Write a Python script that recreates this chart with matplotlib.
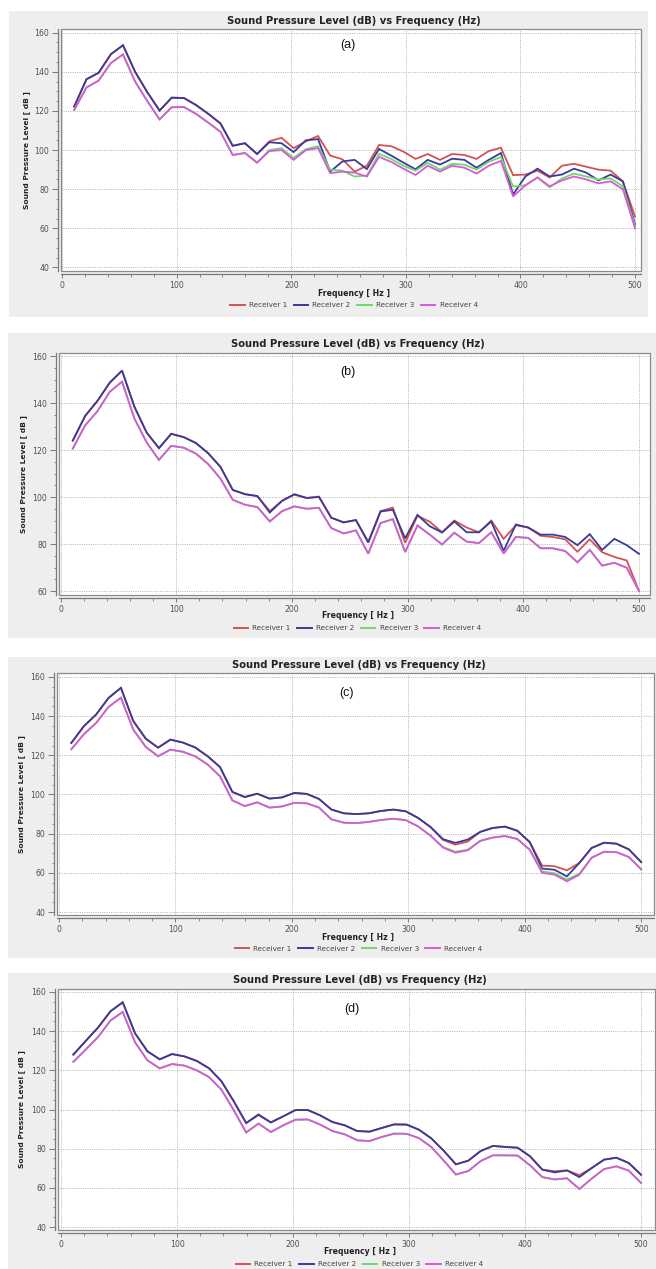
import matplotlib
matplotlib.use("Agg")
import matplotlib.pyplot as plt
from matplotlib.lines import Line2D
from matplotlib.patches import Rectangle
from matplotlib.ticker import MultipleLocator

# ---------------------------------------------------------------- data
freq_hz = [10.6, 21.3, 31.9, 42.6, 53.2, 63.8, 74.5, 85.1, 95.7, 106.4,
           117.0, 127.7, 138.3, 148.9, 159.6, 170.2, 180.9, 191.5, 202.1, 212.8,
           223.4, 234.0, 244.7, 255.3, 266.0, 276.6, 287.2, 297.9, 308.5, 319.1,
           329.8, 340.4, 351.1, 361.7, 372.3, 383.0, 393.6, 404.3, 414.9, 425.5,
           436.2, 446.8, 457.4, 468.1, 478.7, 489.4, 500.0]

receivers = ["Receiver 1", "Receiver 2", "Receiver 3", "Receiver 4"]
panel_tags = ["(a)", "(b)", "(c)", "(d)"]

# (a)
a_r1 = [122.2, 136.2, 139.5, 149.0, 153.6, 140.0, 129.5, 120.2, 126.8, 126.6,
        123.0, 118.5, 113.6, 102.2, 103.5, 98.0, 104.5, 106.3, 101.0, 104.5,
        107.2, 97.2, 95.3, 89.0, 92.0, 102.6, 102.0, 99.2, 95.5, 98.0,
        95.0, 98.0, 97.5, 95.5, 99.5, 101.2, 87.2, 87.5, 89.5, 86.0,
        92.0, 93.0, 91.5, 90.0, 89.5, 84.0, 66.0]
a_r2 = [122.2, 136.2, 139.5, 149.0, 153.6, 140.0, 129.5, 120.2, 126.8, 126.6,
        123.0, 118.5, 113.6, 102.2, 103.5, 98.0, 104.0, 103.5, 99.0, 105.0,
        105.6, 89.0, 94.2, 95.0, 90.3, 100.6, 97.2, 93.6, 90.2, 95.0,
        92.6, 95.6, 95.0, 91.0, 95.0, 98.5, 77.3, 86.5, 90.5, 86.5,
        87.5, 90.5, 88.5, 84.5, 87.5, 84.0, 62.0]
a_r3 = [120.5, 132.0, 135.5, 144.5, 148.9, 135.0, 125.0, 115.7, 121.9, 122.0,
        118.5, 114.0, 109.3, 97.5, 98.5, 93.6, 100.0, 101.0, 96.0, 100.5,
        102.0, 90.0, 89.5, 86.5, 87.0, 98.0, 95.5, 92.0, 89.5, 93.5,
        90.0, 93.0, 92.5, 90.0, 94.0, 96.5, 81.4, 82.0, 86.0, 81.0,
        85.5, 88.0, 86.5, 85.0, 85.5, 81.5, 61.0]
a_r4 = [120.5, 132.0, 135.5, 144.5, 148.9, 135.0, 125.0, 115.7, 121.9, 122.0,
        118.5, 114.0, 109.3, 97.5, 98.5, 93.6, 99.5, 100.0, 95.0, 100.0,
        101.0, 88.2, 89.0, 88.5, 86.5, 96.5, 94.0, 90.5, 87.3, 92.0,
        89.0, 92.0, 91.0, 88.0, 92.0, 94.5, 76.3, 82.0, 86.0, 81.5,
        84.5, 86.5, 85.0, 83.0, 84.0, 80.0, 60.0]

# (b)
b_r1 = [124.0, 134.5, 140.9, 148.7, 153.8, 138.5, 127.4, 120.8, 126.9, 125.5,
        123.0, 118.6, 112.8, 103.0, 101.2, 100.4, 94.0, 98.4, 101.0, 99.6,
        100.2, 91.2, 89.2, 90.2, 81.0, 94.0, 95.5, 80.5, 92.0, 89.5,
        85.0, 90.0, 87.0, 85.0, 90.0, 82.2, 88.0, 87.0, 83.5, 83.0,
        82.0, 76.7, 82.0, 76.5, 74.5, 73.0, 60.0]
b_r2 = [124.0, 134.5, 140.9, 148.7, 153.8, 138.5, 127.4, 120.8, 126.9, 125.5,
        123.0, 118.6, 112.8, 103.0, 101.2, 100.4, 93.4, 98.4, 101.2, 99.6,
        100.0, 91.2, 89.2, 90.2, 80.6, 93.8, 94.6, 82.4, 92.4, 87.6,
        84.9, 89.6, 85.0, 85.0, 89.6, 77.1, 88.3, 87.0, 84.0, 84.0,
        83.0, 79.5, 84.2, 77.5, 82.2, 79.5, 75.8]
b_r3 = [120.6, 130.5, 136.5, 144.8, 149.1, 133.5, 123.2, 115.8, 121.8, 121.0,
        118.5, 114.0, 107.8, 98.8, 96.7, 95.7, 89.6, 94.0, 96.0, 95.0,
        95.4, 86.8, 84.5, 85.8, 75.9, 88.9, 90.6, 76.6, 87.9, 84.0,
        79.8, 84.8, 81.0, 80.4, 85.0, 76.0, 83.0, 82.6, 78.2, 78.2,
        77.0, 72.2, 77.5, 70.8, 72.0, 69.9, 60.0]
b_r4 = [120.6, 130.5, 136.5, 144.8, 149.1, 133.5, 123.2, 115.8, 121.8, 121.0,
        118.5, 114.0, 107.8, 98.8, 96.7, 95.7, 89.6, 94.0, 96.0, 95.0,
        95.4, 86.8, 84.5, 85.8, 75.9, 88.9, 90.6, 76.6, 87.9, 84.0,
        79.8, 84.8, 81.0, 80.4, 85.0, 76.0, 83.0, 82.6, 78.2, 78.2,
        77.0, 72.2, 77.5, 70.8, 72.0, 69.9, 60.0]

# (c)
c_r1 = [126.3, 134.8, 140.8, 149.3, 154.4, 137.5, 128.5, 123.9, 128.0, 126.5,
        124.0, 119.5, 114.0, 101.3, 98.7, 100.4, 97.9, 98.5, 100.8, 100.3,
        97.7, 92.3, 90.4, 90.0, 90.4, 91.6, 92.3, 91.4, 88.0, 83.4,
        76.8, 74.4, 76.0, 80.9, 82.9, 83.6, 81.5, 75.7, 63.7, 63.4,
        61.3, 65.0, 72.7, 75.4, 74.9, 72.0, 65.5]
c_r2 = [126.3, 134.8, 140.8, 149.3, 154.4, 137.5, 128.5, 123.9, 128.0, 126.5,
        124.0, 119.5, 114.0, 101.3, 98.7, 100.4, 97.9, 98.5, 100.8, 100.3,
        97.7, 92.3, 90.4, 90.0, 90.4, 91.6, 92.3, 91.4, 88.0, 83.4,
        77.2, 75.3, 77.0, 80.9, 82.9, 83.6, 81.5, 75.7, 62.2, 61.6,
        58.2, 65.0, 72.7, 75.4, 74.9, 72.0, 65.5]
c_r3 = [123.1, 130.7, 136.5, 144.7, 149.4, 133.1, 124.3, 119.5, 122.9, 121.8,
        119.5, 115.3, 109.3, 97.0, 94.1, 96.0, 93.3, 93.9, 95.7, 95.5,
        93.3, 87.3, 85.6, 85.4, 86.0, 87.0, 87.6, 86.9, 83.7, 79.0,
        73.2, 70.8, 71.8, 76.3, 78.0, 78.8, 77.3, 71.8, 60.8, 59.8,
        56.6, 59.5, 67.7, 70.8, 70.6, 68.1, 61.8]
c_r4 = [123.1, 130.7, 136.5, 144.7, 149.4, 133.1, 124.3, 119.5, 122.9, 121.8,
        119.5, 115.3, 109.3, 97.0, 94.1, 96.0, 93.3, 93.9, 95.7, 95.5,
        93.3, 87.3, 85.6, 85.4, 86.0, 87.0, 87.6, 86.9, 83.7, 79.0,
        72.9, 70.3, 71.5, 76.3, 78.0, 78.8, 77.3, 71.8, 60.0, 59.1,
        55.7, 59.0, 67.7, 70.8, 70.6, 68.1, 61.8]

# (d)
d_r1 = [128.0, 135.0, 141.8, 150.1, 154.7, 138.9, 129.7, 125.6, 128.3, 127.1,
        124.8, 121.0, 114.4, 104.2, 93.1, 97.6, 93.4, 96.5, 99.7, 99.7,
        97.0, 93.6, 91.9, 89.0, 88.7, 90.6, 92.4, 92.3, 89.7, 85.3,
        79.0, 72.0, 73.9, 78.8, 81.4, 80.9, 80.5, 76.1, 69.3, 68.5,
        68.9, 66.5, 70.1, 74.4, 75.4, 72.7, 66.7]
d_r2 = [128.0, 135.0, 141.8, 150.1, 154.7, 138.9, 129.7, 125.6, 128.3, 127.1,
        124.8, 121.0, 114.4, 104.2, 93.1, 97.2, 93.4, 96.5, 99.7, 99.7,
        97.0, 93.6, 91.9, 89.0, 88.7, 90.6, 92.4, 92.3, 89.7, 85.3,
        79.0, 72.0, 73.9, 78.8, 81.4, 80.9, 80.5, 76.1, 69.3, 67.9,
        68.9, 65.5, 70.1, 74.4, 75.4, 72.7, 66.7]
d_r3 = [124.3, 130.6, 137.0, 145.4, 149.8, 134.3, 125.1, 121.0, 123.2, 122.4,
        120.0, 116.5, 110.1, 99.6, 88.3, 92.8, 88.5, 91.9, 94.8, 94.9,
        92.3, 89.0, 87.3, 84.3, 83.9, 86.0, 87.7, 87.6, 85.4, 80.9,
        74.0, 66.8, 68.6, 73.7, 76.6, 76.6, 76.5, 71.5, 65.5, 64.3,
        64.9, 59.4, 64.7, 69.6, 71.0, 68.8, 62.5]
d_r4 = [124.3, 130.6, 137.0, 145.4, 149.8, 134.3, 125.1, 121.0, 123.2, 122.4,
        120.0, 116.5, 110.1, 99.6, 88.3, 92.8, 88.5, 91.9, 94.8, 94.9,
        92.3, 89.0, 87.3, 84.3, 83.9, 86.0, 87.7, 87.6, 85.4, 80.9,
        74.0, 66.8, 68.6, 73.7, 76.6, 76.6, 76.5, 71.5, 65.5, 64.3,
        64.9, 59.4, 64.7, 69.6, 71.0, 68.8, 62.5]

panel_series = [
    [a_r1, a_r2, a_r3, a_r4],
    [b_r1, b_r2, b_r3, b_r4],
    [c_r1, c_r2, c_r3, c_r4],
    [d_r1, d_r2, d_r3, d_r4],
]

# ---------------------------------------------------------------- style
colors = ["#d35252", "#3a3a98", "#6cd86c", "#d85ad8"]
panel_bg = "#eeeeee"
grid_col = "#b4b4b4"
axis_col = "#7a7a7a"
tick_col = "#505050"

W, H = 656, 1269
fig = plt.figure(figsize=(W / 100, H / 100), dpi=100)
fig.patch.set_facecolor("white")


def fx(x):
    return x / W


def fy(y):
    return 1 - y / H


# pixel layout of each chart panel (top-left origin)
layouts = [
    dict(bg=(9, 11, 648, 317), plot=(61, 29, 641, 271),
         xlim=(-0.9, 505.2), ylim=(38.2, 161.9),
         title_y=21, tag=(348, 45), xlabel_y=293, legend_y=305, ylabel_x=27),
    dict(bg=(8, 333, 656, 638), plot=(59, 353, 650, 595),
         xlim=(-1.3, 509.5), ylim=(58.3, 161.3),
         title_y=344, tag=(348, 372), xlabel_y=616, legend_y=628, ylabel_x=24),
    dict(bg=(8, 657, 656, 958), plot=(57, 673, 654, 915),
         xlim=(-1.7, 511.0), ylim=(38.5, 162.0),
         title_y=665, tag=(347, 693), xlabel_y=937, legend_y=949, ylabel_x=22),
    dict(bg=(8, 973, 656, 1269), plot=(58, 989, 655, 1230),
         xlim=(-2.6, 512.0), ylim=(38.5, 161.5),
         title_y=980, tag=(352, 1009), xlabel_y=1252, legend_y=1264, ylabel_x=22),
]

for lay, series, tag in zip(layouts, panel_series, panel_tags):
    # grey chart panel behind each plot
    bx0, by0, bx1, by1 = lay["bg"]
    bg_ax = fig.add_axes([fx(bx0), fy(by1), fx(bx1 - bx0), (by1 - by0) / H], zorder=-5)
    bg_ax.set_facecolor(panel_bg)
    bg_ax.set_xticks([])
    bg_ax.set_yticks([])
    for sp in bg_ax.spines.values():
        sp.set_visible(False)

    px0, py0, px1, py1 = lay["plot"]
    ax = fig.add_axes([fx(px0), fy(py1), fx(px1 - px0), (py1 - py0) / H], zorder=1)
    ax.set_facecolor("white")

    for vals, col, name in zip(series, colors, receivers):
        ax.plot(freq_hz, vals, color=col, lw=1.3, label=name,
                solid_joinstyle="miter", zorder=3)

    ax.set_xlim(*lay["xlim"])
    ax.set_ylim(*lay["ylim"])
    ax.xaxis.set_major_locator(MultipleLocator(100))
    ax.xaxis.set_minor_locator(MultipleLocator(20))
    ax.yaxis.set_major_locator(MultipleLocator(20))
    ax.yaxis.set_minor_locator(MultipleLocator(5))

    ax.grid(True, which="major", color=grid_col, lw=0.7,
            linestyle=(0, (1, 1.3)), zorder=1)
    ax.set_axisbelow(True)

    for side in ("top", "right"):
        ax.spines[side].set_visible(False)
    for side in ("left", "bottom"):
        ax.spines[side].set_position(("outward", 2.4))
        ax.spines[side].set_color(axis_col)
        ax.spines[side].set_linewidth(0.9)
    # plot-area outline
    ax.add_patch(Rectangle((0, 0), 1, 1, transform=ax.transAxes, fill=False,
                           edgecolor="#8a8a8a", lw=0.9, clip_on=False, zorder=4))

    ax.tick_params(axis="both", which="major", colors=axis_col, labelcolor=tick_col,
                   labelsize=5.6, width=0.7, pad=1.5)
    ax.tick_params(axis="y", which="major", length=4.5)
    ax.tick_params(axis="x", which="major", length=3)
    ax.tick_params(axis="both", which="minor", colors=axis_col, length=1.8, width=0.6)

    cx = (px0 + px1) / 2 + 3
    fig.text(fx(cx), fy(lay["title_y"]), "Sound Pressure Level (dB) vs Frequency (Hz)",
             ha="center", va="center", fontsize=7.2, fontweight="bold", color="#222222")
    fig.text(fx(cx), fy(lay["xlabel_y"]), "Frequency [ Hz ]", ha="center", va="center",
             fontsize=5.6, fontweight="bold", color="#222222")
    fig.text(fx(lay["ylabel_x"]), fy((py0 + py1) / 2), "Sound Pressure Level [ dB ]",
             ha="center", va="center", rotation=90, fontsize=5.4, fontweight="bold",
             color="#222222")
    ax.text((lay["tag"][0] - px0) / (px1 - px0), 1 - (lay["tag"][1] - py0) / (py1 - py0),
            tag, transform=ax.transAxes, ha="center", va="center",
            fontsize=9, family="Liberation Sans", color="#111111", zorder=5)

    handles = [Line2D([], [], color=c, lw=1.4) for c in colors]
    fig.legend(handles, receivers, loc="center", bbox_to_anchor=(fx(cx), fy(lay["legend_y"])),
               ncol=4, frameon=False, fontsize=5.2, handlelength=2.0,
               handletextpad=0.6, columnspacing=0.9, labelcolor="#444444",
               borderpad=0, borderaxespad=0)

fig.savefig("out.png", dpi=100, facecolor="white")
